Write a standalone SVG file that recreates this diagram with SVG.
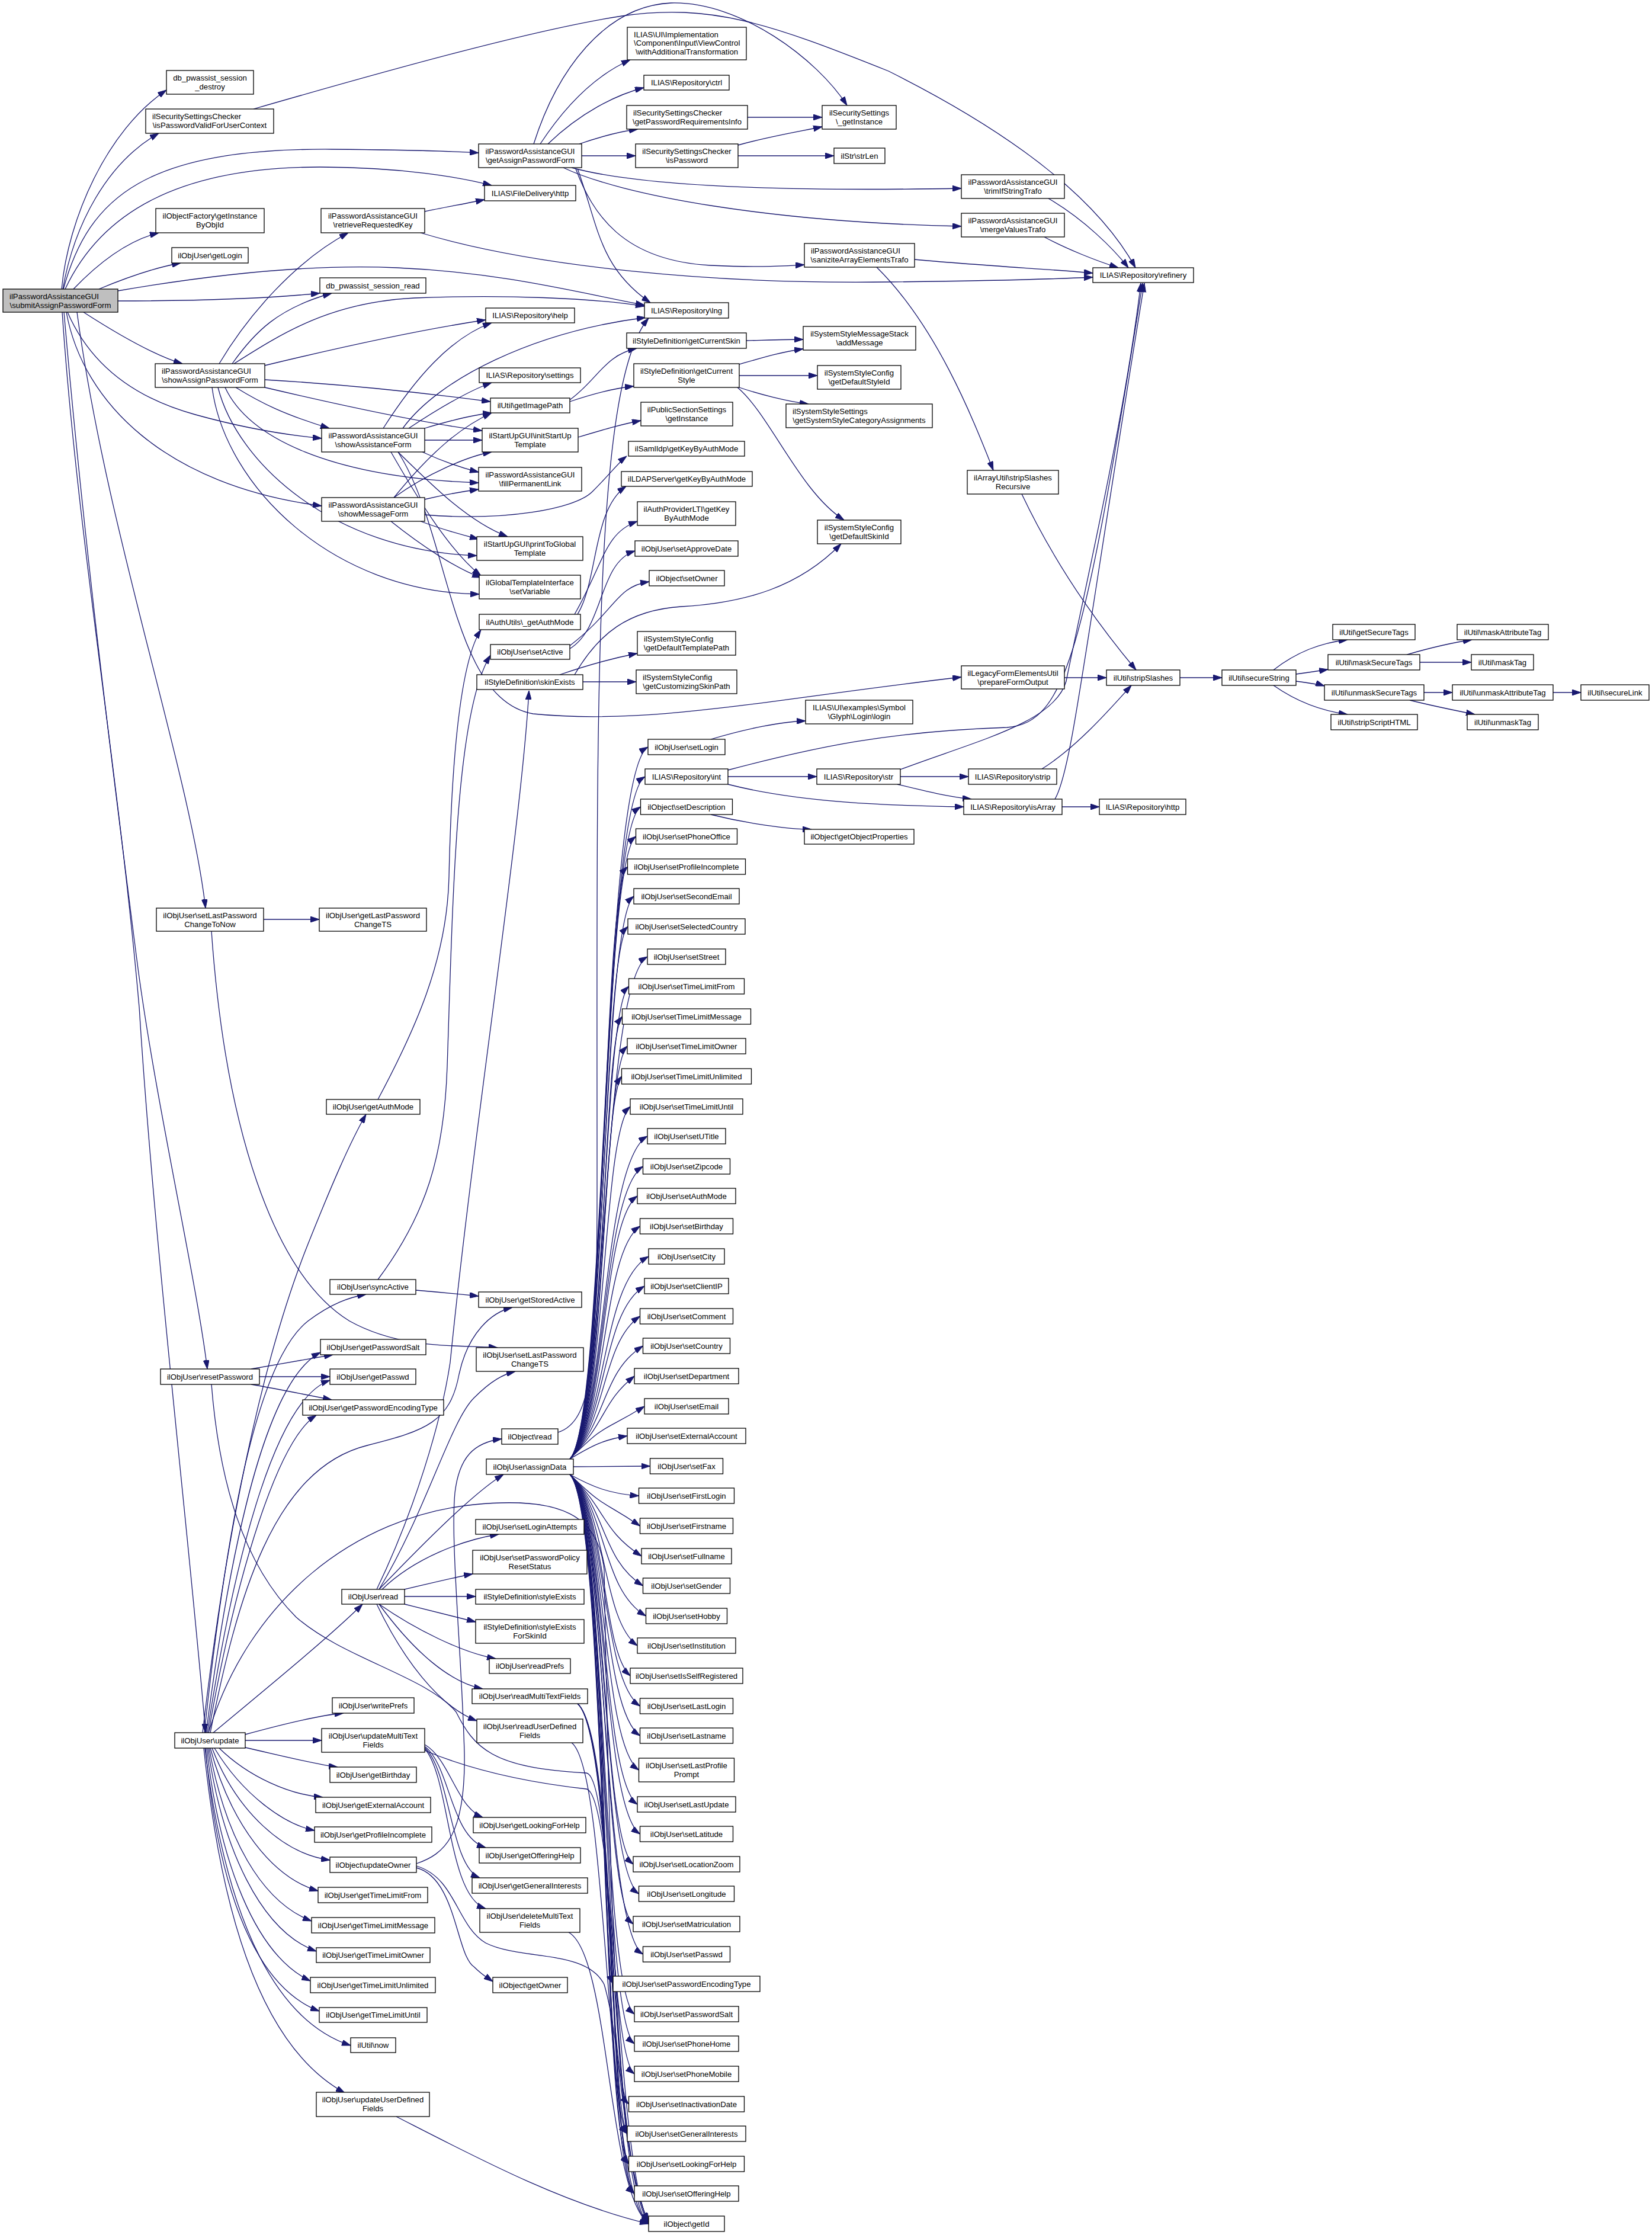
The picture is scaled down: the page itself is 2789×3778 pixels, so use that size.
<svg xmlns="http://www.w3.org/2000/svg" width="2789" height="3778" viewBox="0 0 2789 3778">
<defs>
<style>
rect{fill:#fff;stroke:#000;stroke-width:1.3}
#n_submit rect{fill:#bfbfbf}
text{font-family:"Liberation Sans",Arial,Helvetica,sans-serif;font-size:13.2px;text-anchor:middle;fill:#000}
text.l{text-anchor:start}
#edges path{fill:none;stroke:#191970;stroke-width:1.3;marker-end:url(#a)}
</style>
<marker id="a" markerUnits="userSpaceOnUse" markerWidth="15" markerHeight="10" viewBox="0 0 15 10" refX="15" refY="5" orient="auto"><path d="M0,0 L15,5 L0,10 z" fill="#191970" stroke="#191970" stroke-width="1"/></marker>
</defs>
<rect x="0" y="0" width="2789" height="3778" style="fill:#fff;stroke:none"/>
<g id="edges">
<path d="M104,488 C115,370 180,220 281,152"/>
<path d="M106,488 C125,380 180,275 268,225"/>
<path d="M107,488 C150,330 250,250 560,252 C680,253 760,255 808,258"/>
<path d="M110,488 C170,360 300,282 540,282 C680,282 780,300 830,313"/>
<path d="M124,488 C170,440 220,405 268,393"/>
<path d="M167,488 C210,470 260,452 305,444"/>
<path d="M199,491 C350,465 520,445 670,452 C850,460 980,495 1088,515"/>
<path d="M199,508 C350,508 460,503 540,495"/>
<path d="M141,527 C200,565 260,600 308,614"/>
<path d="M114,527 C150,610 220,670 330,700 C420,725 490,735 543,740"/>
<path d="M112,527 C140,680 280,820 543,854"/>
<path d="M130,527 C180,900 320,1300 347,1533"/>
<path d="M108,527 C140,900 190,1300 230,1612 C260,1850 330,2150 350,2311"/>
<path d="M105,527 C130,900 200,1300 235,1700 C260,2100 320,2600 347,2925"/>
<path d="M428,184 C650,120 900,50 1050,27 C1200,5 1300,40 1500,120 C1700,220 1850,330 1917,452"/>
<path d="M912,243 C960,170 1010,125 1064,101"/>
<path d="M925,243 C980,190 1040,160 1087,148"/>
<path d="M978,243 C1010,232 1045,222 1077,218"/>
<path d="M982,263 L1073,263"/>
<path d="M965,283 C1100,320 1400,322 1623,318"/>
<path d="M951,283 C1050,330 1300,375 1623,382"/>
<path d="M972,285 C1000,360 1050,440 1200,448 C1280,452 1320,449 1358,447"/>
<path d="M975,285 C1010,380 1010,450 1098,511"/>
<path d="M901,243 C940,120 1020,10 1133,5 C1250,2 1380,100 1430,178"/>
<path d="M1246,245 C1300,230 1350,222 1388,214"/>
<path d="M1246,263 L1408,263"/>
<path d="M1262,198 L1388,198"/>
<path d="M1770,335 C1830,370 1880,420 1905,452"/>
<path d="M1763,400 C1800,420 1850,440 1888,452"/>
<path d="M1544,438 C1650,448 1780,455 1845,461"/>
<path d="M1480,451 C1580,550 1640,700 1677,794"/>
<path d="M717,357 C750,350 790,343 818,337"/>
<path d="M710,393 C900,450 1200,480 1500,476 C1700,474 1800,470 1845,468"/>
<path d="M370,614 C420,530 500,440 588,393"/>
<path d="M392,614 C430,560 470,520 560,495"/>
<path d="M395,614 C480,560 560,510 700,503 C850,497 1000,503 1088,517"/>
<path d="M447,617 C600,580 720,555 820,540"/>
<path d="M447,641 C600,650 730,665 828,678"/>
<path d="M447,654 C600,690 720,715 814,727"/>
<path d="M398,654 C440,680 480,700 556,723"/>
<path d="M380,654 C420,740 560,806 808,815"/>
<path d="M368,654 C400,780 560,930 805,938"/>
<path d="M358,654 C380,820 560,1000 809,1003"/>
<path d="M647,723 C700,640 760,570 830,545"/>
<path d="M680,723 C740,640 900,560 1090,536"/>
<path d="M690,723 C740,690 790,660 830,646"/>
<path d="M717,723 C760,710 800,700 830,697"/>
<path d="M717,743 L814,743"/>
<path d="M713,763 C750,780 780,790 808,797"/>
<path d="M672,763 C730,820 790,880 857,906"/>
<path d="M660,763 C710,850 760,930 812,972"/>
<path d="M672,763 C760,900 760,1180 900,1205 C1100,1225 1300,1180 1623,1143"/>
<path d="M665,840 C730,760 780,720 830,697"/>
<path d="M665,840 C720,800 790,770 830,763"/>
<path d="M717,843 C750,835 780,830 808,826"/>
<path d="M710,880 C750,895 780,903 808,910"/>
<path d="M660,880 C710,920 770,960 812,975"/>
<path d="M717,869 C850,880 970,860 1000,830 C1030,800 1045,780 1058,770"/>
<path d="M962,675 C1010,640 1020,600 1075,588"/>
<path d="M962,678 C1000,665 1040,655 1070,652"/>
<path d="M1260,575 C1300,574 1330,573 1356,573"/>
<path d="M1248,615 C1290,603 1320,594 1356,589"/>
<path d="M1248,634 L1380,634"/>
<path d="M1248,654 C1280,665 1330,678 1365,682"/>
<path d="M1245,654 C1300,700 1350,830 1425,878"/>
<path d="M976,738 C1020,725 1050,716 1082,710"/>
<path d="M975,1037 C1010,980 1000,860 1057,821"/>
<path d="M970,1037 C1020,950 1020,900 1076,880"/>
<path d="M962,1095 C1020,1060 1010,950 1072,930"/>
<path d="M962,1090 C1040,1030 1040,990 1096,982"/>
<path d="M945,1139 C1000,1120 1040,1110 1076,1103"/>
<path d="M984,1151 L1074,1151"/>
<path d="M970,1139 C1010,1070 1060,1030 1150,1024 C1260,1018 1350,990 1420,918"/>
<path d="M638,1856 C700,1740 755,1620 758,1480 C762,1300 775,1120 812,1063"/>
<path d="M638,2160 C720,2050 750,1950 755,1800 C765,1500 770,1200 828,1106"/>
<path d="M702,2178 C750,2182 780,2185 808,2188"/>
<path d="M636,2683 C700,2550 745,2400 760,2300 C800,1900 880,1400 893,1166"/>
<path d="M640,2683 C720,2550 760,2400 800,2360 C830,2330 850,2320 870,2315"/>
<path d="M355,2925 C400,2700 460,2480 620,2440 C720,2415 760,2400 775,2320 C790,2250 830,2215 865,2207"/>
<path d="M445,1552 L539,1552"/>
<path d="M357,1572 C380,1900 460,2150 590,2230 C680,2280 780,2270 840,2275"/>
<path d="M424,2311 C470,2303 520,2294 562,2287"/>
<path d="M438,2324 L557,2324"/>
<path d="M424,2337 C470,2345 520,2355 560,2363"/>
<path d="M357,2337 C370,2500 410,2640 500,2730 C580,2800 720,2830 770,2890 C800,2950 830,2985 990,2993 C1040,3000 1030,3650 1095,3754"/>
<path d="M345,2925 C380,2600 430,2300 520,2230 C560,2200 590,2190 618,2185"/>
<path d="M342,2925 C380,2600 440,2300 520,2100 C560,2000 590,1930 618,1881"/>
<path d="M348,2925 C390,2600 450,2330 541,2283"/>
<path d="M350,2925 C400,2600 470,2360 557,2330"/>
<path d="M352,2925 C400,2650 470,2430 534,2389"/>
<path d="M360,2925 C450,2850 560,2760 612,2708"/>
<path d="M414,2928 C480,2910 540,2895 580,2892"/>
<path d="M414,2938 L543,2938"/>
<path d="M414,2950 C480,2965 540,2980 570,2983"/>
<path d="M370,2951 C420,3000 490,3030 545,3034"/>
<path d="M362,2951 C410,3030 480,3080 531,3090"/>
<path d="M358,2951 C400,3060 480,3130 557,3140"/>
<path d="M355,2951 C390,3080 460,3170 537,3192"/>
<path d="M353,2951 C380,3100 440,3210 526,3243"/>
<path d="M351,2951 C375,3120 440,3260 534,3294"/>
<path d="M349,2951 C370,3140 430,3300 524,3344"/>
<path d="M347,2951 C365,3160 420,3350 539,3395"/>
<path d="M346,2951 C370,3150 430,3400 592,3453"/>
<path d="M344,2951 C370,3200 430,3450 582,3533"/>
<path d="M352,2925 C420,2700 600,2560 800,2540 C950,2525 1010,2560 1020,2650 C1030,3200 1040,3650 1095,3750"/>
<path d="M640,2683 C720,2600 800,2520 850,2489"/>
<path d="M645,2683 C700,2630 780,2600 842,2590"/>
<path d="M683,2683 C730,2672 780,2660 798,2657"/>
<path d="M683,2695 L803,2695"/>
<path d="M683,2708 C730,2720 780,2732 803,2738"/>
<path d="M640,2708 C700,2750 780,2790 837,2800"/>
<path d="M640,2708 C700,2790 760,2840 815,2851"/>
<path d="M636,2708 C680,2800 740,2880 805,2905"/>
<path d="M703,3146 C750,3130 786,3100 784,2960 C780,2800 760,2600 768,2520 C775,2460 800,2435 847,2429"/>
<path d="M703,3153 C770,3170 770,3300 800,3320 C815,3335 825,3340 832,3345"/>
<path d="M703,3150 C770,3170 770,3250 820,3280 C880,3310 990,3290 1020,3350 C1050,3450 1050,3650 1095,3752"/>
<path d="M717,2945 C760,2970 770,3050 815,3068"/>
<path d="M717,2948 C760,2980 760,3100 820,3119"/>
<path d="M717,2950 C760,2990 760,3150 810,3170"/>
<path d="M717,2952 C760,3000 755,3200 820,3222"/>
<path d="M717,2955 C800,2990 900,3010 990,3020 C1040,3030 1040,3650 1095,3752"/>
<path d="M975,2876 C1040,2930 1028,3552 1059,3602"/>
<path d="M975,2876 C1040,2930 1028,3603 1061.5,3653"/>
<path d="M975,2876 C1040,2930 1028,3653 1071,3703"/>
<path d="M975,2876 C1040,2930 1030,3704 1095,3754"/>
<path d="M965,2942 C1030,2990 1020,3700 1095,3754"/>
<path d="M960,3262 C1030,3300 1025,3700 1095,3754"/>
<path d="M669,3573 C800,3640 950,3720 1095,3754"/>
<path d="M942,2418 C1000,2400 1008,2300 1008,2000 C1008,1200 1000,650 1095,537"/>
<path d="M1200,1375 C1260,1390 1330,1400 1370,1400"/>
<path d="M1200,1248 C1260,1230 1320,1218 1360,1217"/>
<path d="M1229,1311 L1379,1311"/>
<path d="M1229,1324 C1350,1355 1500,1360 1627,1362"/>
<path d="M1229,1300 C1380,1260 1500,1235 1700,1228 C1800,1220 1830,1100 1929,478"/>
<path d="M1520,1299 C1650,1250 1780,1220 1800,1150 C1830,1000 1900,700 1926,478"/>
<path d="M1520,1311 L1635,1311"/>
<path d="M1515,1324 C1560,1335 1600,1345 1640,1349"/>
<path d="M1781,1349 C1810,1300 1830,1100 1932,478"/>
<path d="M1793,1362 L1856,1362"/>
<path d="M1759,1298 C1820,1260 1880,1190 1910,1157"/>
<path d="M1725,834 C1780,950 1850,1050 1918,1131"/>
<path d="M1797,1144 L1868,1144"/>
<path d="M1992,1144 L2063,1144"/>
<path d="M2150,1131 C2190,1100 2230,1085 2275,1080"/>
<path d="M2188,1138 C2210,1135 2230,1132 2242,1130"/>
<path d="M2188,1150 C2210,1153 2230,1156 2236,1158"/>
<path d="M2150,1157 C2190,1185 2230,1200 2275,1206"/>
<path d="M2375,1105 C2410,1095 2450,1085 2485,1080"/>
<path d="M2397,1118 L2484,1118"/>
<path d="M2404,1169 L2452,1169"/>
<path d="M2380,1182 C2420,1192 2460,1200 2490,1206"/>
<path d="M2622,1169 L2669,1169"/>
<path d="M962,2463 C1025,2400 1015,1306 1094,1261"/>
<path d="M962,2463 C1025,2400 1015,1356 1089,1311"/>
<path d="M962,2463 C1025,2400 1015,1407 1081.5,1362"/>
<path d="M962,2463 C1025,2400 1015,1457 1073.5,1412"/>
<path d="M962,2463 C1025,2400 1015,1508 1059.5,1463"/>
<path d="M962,2463 C1025,2400 1015,1558 1070,1513"/>
<path d="M962,2463 C1025,2400 1015,1609 1060,1564"/>
<path d="M962,2463 C1025,2400 1015,1660 1093,1615"/>
<path d="M962,2463 C1025,2400 1015,1710 1061.5,1665"/>
<path d="M962,2463 C1025,2400 1015,1761 1050.5,1716"/>
<path d="M962,2463 C1025,2400 1015,1811 1059,1766"/>
<path d="M962,2463 C1025,2400 1015,1862 1049.5,1817"/>
<path d="M962,2463 C1025,2400 1015,1913 1064,1868"/>
<path d="M962,2463 C1025,2400 1015,1963 1093,1918"/>
<path d="M962,2463 C1025,2400 1015,2014 1085.5,1969"/>
<path d="M962,2463 C1025,2400 1015,2064 1076,2019"/>
<path d="M962,2463 C1025,2400 1015,2115 1080.5,2070"/>
<path d="M962,2463 C1025,2400 1015,2166 1095,2121"/>
<path d="M962,2463 C1025,2400 1015,2216 1088,2171"/>
<path d="M962,2463 C1025,2400 1015,2267 1080.5,2222"/>
<path d="M962,2463 C1025,2400 1015,2317 1085.5,2272"/>
<path d="M962,2463 C1025,2400 1015,2368 1071,2323"/>
<path d="M962,2463 C1025,2400 1015,2419 1088,2374"/>
<path d="M962,2463 C1000,2440 1020,2430 1059,2424"/>
<path d="M968,2476 C1010,2476 1050,2475 1097.5,2475"/>
<path d="M962,2489 C1000,2510 1030,2522 1078.5,2525"/>
<path d="M962,2489 C1025,2550 1015,2531 1080.5,2576"/>
<path d="M962,2489 C1025,2550 1015,2582 1083,2627"/>
<path d="M962,2489 C1025,2550 1015,2632 1085.5,2677"/>
<path d="M962,2489 C1025,2550 1015,2683 1090.5,2728"/>
<path d="M962,2489 C1025,2550 1015,2733 1076,2778"/>
<path d="M962,2489 C1025,2550 1015,2784 1064,2829"/>
<path d="M962,2489 C1025,2550 1015,2835 1080.5,2880"/>
<path d="M962,2489 C1025,2550 1015,2885 1080.5,2930"/>
<path d="M962,2489 C1025,2550 1015,2943 1078.5,2988"/>
<path d="M962,2489 C1025,2550 1015,3001 1076,3046"/>
<path d="M962,2489 C1025,2550 1015,3051 1080.5,3096"/>
<path d="M962,2489 C1025,2550 1015,3102 1069,3147"/>
<path d="M962,2489 C1025,2550 1015,3152 1078.5,3197"/>
<path d="M962,2489 C1025,2550 1015,3203 1069,3248"/>
<path d="M962,2489 C1025,2550 1015,3254 1085.5,3299"/>
<path d="M962,2489 C1025,2550 1015,3304 1035,3349"/>
<path d="M962,2489 C1025,2550 1015,3355 1071,3400"/>
<path d="M962,2489 C1025,2550 1015,3405 1071,3450"/>
<path d="M962,2489 C1025,2550 1015,3456 1071,3501"/>
<path d="M962,2489 C1025,2550 1015,3507 1061.5,3552"/>
<path d="M962,2489 C1025,2550 1015,3557 1059,3602"/>
<path d="M962,2489 C1025,2550 1015,3608 1061.5,3653"/>
<path d="M962,2489 C1025,2550 1015,3658 1071,3703"/>
</g>
<g id="n_submit"><rect x="5" y="488" width="194" height="39"/><text class="l" x="16" y="504.5">ilPasswordAssistanceGUI</text><text x="102" y="519.5">\submitAssignPasswordForm</text></g>
<g id="n_destroy"><rect x="281" y="119" width="147" height="40"/><text x="354.5" y="135.5">db_pwassist_session</text><text x="354.5" y="150.5">_destroy</text></g>
<g id="n_isPwValid"><rect x="246" y="184" width="216" height="41"/><text class="l" x="257" y="200.5">ilSecuritySettingsChecker</text><text x="354" y="215.5">\isPasswordValidForUserContext</text></g>
<g id="n_getInst"><rect x="263" y="352" width="183" height="41"/><text x="354.5" y="368.5">ilObjectFactory\getInstance</text><text x="354.5" y="383.5">ByObjId</text></g>
<g id="n_getLogin"><rect x="290" y="418" width="129" height="26"/><text x="354.5" y="435.5">ilObjUser\getLogin</text></g>
<g id="n_showAssign"><rect x="262" y="614" width="185" height="40"/><text class="l" x="273" y="630.5">ilPasswordAssistanceGUI</text><text x="354.5" y="645.5">\showAssignPasswordForm</text></g>
<g id="n_setLPCTN"><rect x="264" y="1533" width="181" height="39"/><text x="354.5" y="1549.5">ilObjUser\setLastPassword</text><text x="354.5" y="1564.5">ChangeToNow</text></g>
<g id="n_resetPw"><rect x="271" y="2311" width="167" height="26"/><text x="354.5" y="2328.5">ilObjUser\resetPassword</text></g>
<g id="n_update"><rect x="295" y="2925" width="119" height="26"/><text x="354.5" y="2942.5">ilObjUser\update</text></g>
<g id="n_retrieve"><rect x="542" y="352" width="175" height="41"/><text x="629.5" y="368.5">ilPasswordAssistanceGUI</text><text x="629.5" y="383.5">\retrieveRequestedKey</text></g>
<g id="n_sessRead"><rect x="540" y="469" width="179" height="26"/><text x="629.5" y="486.5">db_pwassist_session_read</text></g>
<g id="n_showAssist"><rect x="543" y="723" width="174" height="40"/><text x="630" y="739.5">ilPasswordAssistanceGUI</text><text x="630" y="754.5">\showAssistanceForm</text></g>
<g id="n_showMsg"><rect x="543" y="840" width="174" height="40"/><text x="630" y="856.5">ilPasswordAssistanceGUI</text><text x="630" y="871.5">\showMessageForm</text></g>
<g id="n_getLPCTS"><rect x="539" y="1533" width="181" height="39"/><text x="629.5" y="1549.5">ilObjUser\getLastPassword</text><text x="629.5" y="1564.5">ChangeTS</text></g>
<g id="n_getAuthMode"><rect x="551" y="1856" width="158" height="25"/><text x="630" y="1873">ilObjUser\getAuthMode</text></g>
<g id="n_syncActive"><rect x="557" y="2160" width="145" height="25"/><text x="629.5" y="2177">ilObjUser\syncActive</text></g>
<g id="n_getPwSalt"><rect x="541" y="2261" width="178" height="26"/><text x="630" y="2278.5">ilObjUser\getPasswordSalt</text></g>
<g id="n_getPasswd"><rect x="557" y="2311" width="145" height="26"/><text x="629.5" y="2328.5">ilObjUser\getPasswd</text></g>
<g id="n_getPwEnc"><rect x="511" y="2363" width="238" height="26"/><text x="630" y="2380.5">ilObjUser\getPasswordEncodingType</text></g>
<g id="n_userRead"><rect x="577" y="2683" width="106" height="25"/><text x="630" y="2700">ilObjUser\read</text></g>
<g id="n_writePrefs"><rect x="561" y="2866" width="138" height="26"/><text x="630" y="2883.5">ilObjUser\writePrefs</text></g>
<g id="n_updMulti"><rect x="543" y="2918" width="174" height="40"/><text x="630" y="2934.5">ilObjUser\updateMultiText</text><text x="630" y="2949.5">Fields</text></g>
<g id="n_getBirthday"><rect x="557" y="2983" width="146" height="26"/><text x="630" y="3000.5">ilObjUser\getBirthday</text></g>
<g id="n_getExtAcc"><rect x="533" y="3034" width="194" height="26"/><text x="630" y="3051.5">ilObjUser\getExternalAccount</text></g>
<g id="n_getProfInc"><rect x="531" y="3084" width="198" height="26"/><text x="630" y="3101.5">ilObjUser\getProfileIncomplete</text></g>
<g id="n_updOwner"><rect x="557" y="3135" width="146" height="26"/><text x="630" y="3152.5">ilObject\updateOwner</text></g>
<g id="n_getTLFrom"><rect x="537" y="3186" width="185" height="26"/><text x="629.5" y="3203.5">ilObjUser\getTimeLimitFrom</text></g>
<g id="n_getTLMsg"><rect x="526" y="3237" width="208" height="26"/><text x="630" y="3254.5">ilObjUser\getTimeLimitMessage</text></g>
<g id="n_getTLOwner"><rect x="534" y="3288" width="192" height="25"/><text x="630" y="3305">ilObjUser\getTimeLimitOwner</text></g>
<g id="n_getTLUnl"><rect x="524" y="3338" width="211" height="26"/><text x="629.5" y="3355.5">ilObjUser\getTimeLimitUnlimited</text></g>
<g id="n_getTLUntil"><rect x="539" y="3389" width="182" height="25"/><text x="630" y="3406">ilObjUser\getTimeLimitUntil</text></g>
<g id="n_now"><rect x="592" y="3440" width="76" height="25"/><text x="630" y="3457">ilUtil\now</text></g>
<g id="n_updUDF"><rect x="534" y="3532" width="191" height="41"/><text x="629.5" y="3548.5">ilObjUser\updateUserDefined</text><text x="629.5" y="3563.5">Fields</text></g>
<g id="n_getAssign"><rect x="808" y="243" width="174" height="40"/><text x="895" y="259.5">ilPasswordAssistanceGUI</text><text x="895" y="274.5">\getAssignPasswordForm</text></g>
<g id="n_fdHttp"><rect x="818" y="313" width="154" height="26"/><text x="895" y="330.5">ILIAS\FileDelivery\http</text></g>
<g id="n_help"><rect x="820" y="520" width="150" height="25"/><text x="895" y="537">ILIAS\Repository\help</text></g>
<g id="n_settings"><rect x="809" y="621" width="171" height="25"/><text x="894.5" y="638">ILIAS\Repository\settings</text></g>
<g id="n_getImagePath"><rect x="828" y="672" width="134" height="25"/><text x="895" y="689">ilUtil\getImagePath</text></g>
<g id="n_initStartUp"><rect x="814" y="723" width="162" height="40"/><text x="895" y="739.5">ilStartUpGUI\initStartUp</text><text x="895" y="754.5">Template</text></g>
<g id="n_fillPerm"><rect x="808" y="789" width="174" height="40"/><text x="895" y="805.5">ilPasswordAssistanceGUI</text><text x="895" y="820.5">\fillPermanentLink</text></g>
<g id="n_printGlobal"><rect x="805" y="906" width="179" height="40"/><text x="894.5" y="922.5">ilStartUpGUI\printToGlobal</text><text x="894.5" y="937.5">Template</text></g>
<g id="n_setVariable"><rect x="809" y="971" width="171" height="40"/><text x="894.5" y="987.5">ilGlobalTemplateInterface</text><text x="894.5" y="1002.5">\setVariable</text></g>
<g id="n_authUtils"><rect x="809" y="1037" width="171" height="26"/><text x="894.5" y="1054.5">ilAuthUtils\_getAuthMode</text></g>
<g id="n_setActive"><rect x="828" y="1088" width="134" height="25"/><text x="895" y="1105">ilObjUser\setActive</text></g>
<g id="n_skinExists"><rect x="805" y="1139" width="179" height="25"/><text x="894.5" y="1156">ilStyleDefinition\skinExists</text></g>
<g id="n_getStoredActive"><rect x="808" y="2181" width="174" height="26"/><text x="895" y="2198.5">ilObjUser\getStoredActive</text></g>
<g id="n_setLPCTS"><rect x="804" y="2275" width="181" height="40"/><text x="894.5" y="2291.5">ilObjUser\setLastPassword</text><text x="894.5" y="2306.5">ChangeTS</text></g>
<g id="n_objRead"><rect x="847" y="2412" width="95" height="26"/><text x="894.5" y="2429.5">ilObject\read</text></g>
<g id="n_assignData"><rect x="821" y="2463" width="147" height="26"/><text x="894.5" y="2480.5">ilObjUser\assignData</text></g>
<g id="n_setLoginAtt"><rect x="803" y="2565" width="183" height="25"/><text x="894.5" y="2582">ilObjUser\setLoginAttempts</text></g>
<g id="n_setPPRS"><rect x="798" y="2617" width="193" height="40"/><text x="894.5" y="2633.5">ilObjUser\setPasswordPolicy</text><text x="894.5" y="2648.5">ResetStatus</text></g>
<g id="n_styleExists"><rect x="803" y="2683" width="183" height="25"/><text x="894.5" y="2700">ilStyleDefinition\styleExists</text></g>
<g id="n_styleExistsSkin"><rect x="803" y="2734" width="183" height="40"/><text x="894.5" y="2750.5">ilStyleDefinition\styleExists</text><text x="894.5" y="2765.5">ForSkinId</text></g>
<g id="n_readPrefs"><rect x="826" y="2800" width="137" height="25"/><text x="894.5" y="2817">ilObjUser\readPrefs</text></g>
<g id="n_readMulti"><rect x="797" y="2851" width="195" height="25"/><text x="894.5" y="2868">ilObjUser\readMultiTextFields</text></g>
<g id="n_readUDF"><rect x="805" y="2902" width="179" height="40"/><text x="894.5" y="2918.5">ilObjUser\readUserDefined</text><text x="894.5" y="2933.5">Fields</text></g>
<g id="n_getLFH"><rect x="799" y="3068" width="190" height="26"/><text x="894" y="3085.5">ilObjUser\getLookingForHelp</text></g>
<g id="n_getOH"><rect x="809" y="3119" width="171" height="26"/><text x="894.5" y="3136.5">ilObjUser\getOfferingHelp</text></g>
<g id="n_getGI"><rect x="797" y="3170" width="195" height="26"/><text x="894.5" y="3187.5">ilObjUser\getGeneralInterests</text></g>
<g id="n_delMulti"><rect x="810" y="3222" width="169" height="40"/><text x="894.5" y="3238.5">ilObjUser\deleteMultiText</text><text x="894.5" y="3253.5">Fields</text></g>
<g id="n_getOwner"><rect x="832" y="3338" width="126" height="26"/><text x="895" y="3355.5">ilObject\getOwner</text></g>
<g id="n_withAT"><rect x="1059" y="46" width="201" height="55"/><text class="l" x="1070" y="62.5">ILIAS\UI\Implementation</text><text class="l" x="1070" y="77">\Component\Input\ViewControl</text><text x="1159.5" y="91.5">\withAdditionalTransformation</text></g>
<g id="n_ctrl"><rect x="1087" y="127" width="144" height="25"/><text x="1159" y="144">ILIAS\Repository\ctrl</text></g>
<g id="n_getPRI"><rect x="1058" y="178" width="204" height="40"/><text class="l" x="1069" y="194.5">ilSecuritySettingsChecker</text><text x="1160" y="209.5">\getPasswordRequirementsInfo</text></g>
<g id="n_isPassword"><rect x="1073" y="243" width="173" height="40"/><text x="1159.5" y="259.5">ilSecuritySettingsChecker</text><text x="1159.5" y="274.5">\isPassword</text></g>
<g id="n_lng"><rect x="1088" y="511" width="142" height="26"/><text x="1159" y="528.5">ILIAS\Repository\lng</text></g>
<g id="n_getCurSkin"><rect x="1058" y="562" width="202" height="26"/><text x="1159" y="579.5">ilStyleDefinition\getCurrentSkin</text></g>
<g id="n_getCurStyle"><rect x="1070" y="614" width="178" height="40"/><text x="1159" y="630.5">ilStyleDefinition\getCurrent</text><text x="1159" y="645.5">Style</text></g>
<g id="n_pubSec"><rect x="1082" y="679" width="155" height="40"/><text x="1159.5" y="695.5">ilPublicSectionSettings</text><text x="1159.5" y="710.5">\getInstance</text></g>
<g id="n_saml"><rect x="1061" y="745" width="196" height="25"/><text x="1159" y="762">ilSamlIdp\getKeyByAuthMode</text></g>
<g id="n_ldap"><rect x="1049" y="796" width="221" height="25"/><text x="1159.5" y="813">ilLDAPServer\getKeyByAuthMode</text></g>
<g id="n_lti"><rect x="1076" y="847" width="166" height="40"/><text x="1159" y="863.5">ilAuthProviderLTI\getKey</text><text x="1159" y="878.5">ByAuthMode</text></g>
<g id="n_setApprove"><rect x="1072" y="913" width="174" height="26"/><text x="1159" y="930.5">ilObjUser\setApproveDate</text></g>
<g id="n_setOwner"><rect x="1096" y="963" width="127" height="26"/><text x="1159.5" y="980.5">ilObject\setOwner</text></g>
<g id="n_getDefTpl"><rect x="1076" y="1066" width="166" height="40"/><text class="l" x="1087" y="1082.5">ilSystemStyleConfig</text><text x="1159" y="1097.5">\getDefaultTemplatePath</text></g>
<g id="n_getCustSkin"><rect x="1074" y="1131" width="170" height="40"/><text class="l" x="1085" y="1147.5">ilSystemStyleConfig</text><text x="1159" y="1162.5">\getCustomizingSkinPath</text></g>
<g id="n_s00"><rect x="1094" y="1248" width="130" height="26"/><text x="1159" y="1265.5">ilObjUser\setLogin</text></g>
<g id="n_s01"><rect x="1089" y="1298" width="140" height="26"/><text x="1159" y="1315.5">ILIAS\Repository\int</text></g>
<g id="n_s02"><rect x="1081.5" y="1349" width="155" height="26"/><text x="1159" y="1366.5">ilObject\setDescription</text></g>
<g id="n_s03"><rect x="1073.5" y="1399" width="171" height="26"/><text x="1159" y="1416.5">ilObjUser\setPhoneOffice</text></g>
<g id="n_s04"><rect x="1059.5" y="1450" width="199" height="26"/><text x="1159" y="1467.5">ilObjUser\setProfileIncomplete</text></g>
<g id="n_s05"><rect x="1070" y="1500" width="178" height="26"/><text x="1159" y="1517.5">ilObjUser\setSecondEmail</text></g>
<g id="n_s06"><rect x="1060" y="1551" width="198" height="26"/><text x="1159" y="1568.5">ilObjUser\setSelectedCountry</text></g>
<g id="n_s07"><rect x="1093" y="1602" width="132" height="26"/><text x="1159" y="1619.5">ilObjUser\setStreet</text></g>
<g id="n_s08"><rect x="1061.5" y="1652" width="195" height="26"/><text x="1159" y="1669.5">ilObjUser\setTimeLimitFrom</text></g>
<g id="n_s09"><rect x="1050.5" y="1703" width="217" height="26"/><text x="1159" y="1720.5">ilObjUser\setTimeLimitMessage</text></g>
<g id="n_s10"><rect x="1059" y="1753" width="200" height="26"/><text x="1159" y="1770.5">ilObjUser\setTimeLimitOwner</text></g>
<g id="n_s11"><rect x="1049.5" y="1804" width="219" height="26"/><text x="1159" y="1821.5">ilObjUser\setTimeLimitUnlimited</text></g>
<g id="n_s12"><rect x="1064" y="1855" width="190" height="26"/><text x="1159" y="1872.5">ilObjUser\setTimeLimitUntil</text></g>
<g id="n_s13"><rect x="1093" y="1905" width="132" height="26"/><text x="1159" y="1922.5">ilObjUser\setUTitle</text></g>
<g id="n_s14"><rect x="1085.5" y="1956" width="147" height="26"/><text x="1159" y="1973.5">ilObjUser\setZipcode</text></g>
<g id="n_s15"><rect x="1076" y="2006" width="166" height="26"/><text x="1159" y="2023.5">ilObjUser\setAuthMode</text></g>
<g id="n_s16"><rect x="1080.5" y="2057" width="157" height="26"/><text x="1159" y="2074.5">ilObjUser\setBirthday</text></g>
<g id="n_s17"><rect x="1095" y="2108" width="128" height="26"/><text x="1159" y="2125.5">ilObjUser\setCity</text></g>
<g id="n_s18"><rect x="1088" y="2158" width="142" height="26"/><text x="1159" y="2175.5">ilObjUser\setClientIP</text></g>
<g id="n_s19"><rect x="1080.5" y="2209" width="157" height="26"/><text x="1159" y="2226.5">ilObjUser\setComment</text></g>
<g id="n_s20"><rect x="1085.5" y="2259" width="147" height="26"/><text x="1159" y="2276.5">ilObjUser\setCountry</text></g>
<g id="n_s21"><rect x="1071" y="2310" width="176" height="26"/><text x="1159" y="2327.5">ilObjUser\setDepartment</text></g>
<g id="n_s22"><rect x="1088" y="2361" width="142" height="26"/><text x="1159" y="2378.5">ilObjUser\setEmail</text></g>
<g id="n_s23"><rect x="1059" y="2411" width="200" height="26"/><text x="1159" y="2428.5">ilObjUser\setExternalAccount</text></g>
<g id="n_s24"><rect x="1097.5" y="2462" width="123" height="26"/><text x="1159" y="2479.5">ilObjUser\setFax</text></g>
<g id="n_s25"><rect x="1078.5" y="2512" width="161" height="26"/><text x="1159" y="2529.5">ilObjUser\setFirstLogin</text></g>
<g id="n_s26"><rect x="1080.5" y="2563" width="157" height="26"/><text x="1159" y="2580.5">ilObjUser\setFirstname</text></g>
<g id="n_s27"><rect x="1083" y="2614" width="152" height="26"/><text x="1159" y="2631.5">ilObjUser\setFullname</text></g>
<g id="n_s28"><rect x="1085.5" y="2664" width="147" height="26"/><text x="1159" y="2681.5">ilObjUser\setGender</text></g>
<g id="n_s29"><rect x="1090.5" y="2715" width="137" height="26"/><text x="1159" y="2732.5">ilObjUser\setHobby</text></g>
<g id="n_s30"><rect x="1076" y="2765" width="166" height="26"/><text x="1159" y="2782.5">ilObjUser\setInstitution</text></g>
<g id="n_s31"><rect x="1064" y="2816" width="190" height="26"/><text x="1159" y="2833.5">ilObjUser\setIsSelfRegistered</text></g>
<g id="n_s32"><rect x="1080.5" y="2867" width="157" height="26"/><text x="1159" y="2884.5">ilObjUser\setLastLogin</text></g>
<g id="n_s33"><rect x="1080.5" y="2917" width="157" height="26"/><text x="1159" y="2934.5">ilObjUser\setLastname</text></g>
<g id="n_sP"><rect x="1078.5" y="2968" width="161" height="40"/><text x="1159" y="2984.5">ilObjUser\setLastProfile</text><text x="1159" y="2999.5">Prompt</text></g>
<g id="n_k00"><rect x="1076" y="3033" width="166" height="26"/><text x="1159" y="3050.5">ilObjUser\setLastUpdate</text></g>
<g id="n_k01"><rect x="1080.5" y="3083" width="157" height="26"/><text x="1159" y="3100.5">ilObjUser\setLatitude</text></g>
<g id="n_k02"><rect x="1069" y="3134" width="180" height="26"/><text x="1159" y="3151.5">ilObjUser\setLocationZoom</text></g>
<g id="n_k03"><rect x="1078.5" y="3184" width="161" height="26"/><text x="1159" y="3201.5">ilObjUser\setLongitude</text></g>
<g id="n_k04"><rect x="1069" y="3235" width="180" height="26"/><text x="1159" y="3252.5">ilObjUser\setMatriculation</text></g>
<g id="n_k05"><rect x="1085.5" y="3286" width="147" height="26"/><text x="1159" y="3303.5">ilObjUser\setPasswd</text></g>
<g id="n_k06"><rect x="1035" y="3336" width="248" height="26"/><text x="1159" y="3353.5">ilObjUser\setPasswordEncodingType</text></g>
<g id="n_k07"><rect x="1071" y="3387" width="176" height="26"/><text x="1159" y="3404.5">ilObjUser\setPasswordSalt</text></g>
<g id="n_k08"><rect x="1071" y="3437" width="176" height="26"/><text x="1159" y="3454.5">ilObjUser\setPhoneHome</text></g>
<g id="n_k09"><rect x="1071" y="3488" width="176" height="26"/><text x="1159" y="3505.5">ilObjUser\setPhoneMobile</text></g>
<g id="n_k10"><rect x="1061.5" y="3539" width="195" height="26"/><text x="1159" y="3556.5">ilObjUser\setInactivationDate</text></g>
<g id="n_k11"><rect x="1059" y="3589" width="200" height="26"/><text x="1159" y="3606.5">ilObjUser\setGeneralInterests</text></g>
<g id="n_k12"><rect x="1061.5" y="3640" width="195" height="26"/><text x="1159" y="3657.5">ilObjUser\setLookingForHelp</text></g>
<g id="n_k13"><rect x="1071" y="3690" width="176" height="26"/><text x="1159" y="3707.5">ilObjUser\setOfferingHelp</text></g>
<g id="n_getId"><rect x="1095" y="3741" width="128" height="26"/><text x="1159" y="3758.5">ilObject\getId</text></g>
<g id="n_getInstance"><rect x="1388" y="178" width="125" height="40"/><text x="1450.5" y="194.5">ilSecuritySettings</text><text x="1450.5" y="209.5">\_getInstance</text></g>
<g id="n_strLen"><rect x="1408" y="250" width="86" height="26"/><text x="1451" y="267.5">ilStr\strLen</text></g>
<g id="n_sanitize"><rect x="1358" y="411" width="186" height="40"/><text class="l" x="1369" y="427.5">ilPasswordAssistanceGUI</text><text x="1451" y="442.5">\saniziteArrayElementsTrafo</text></g>
<g id="n_addMsg"><rect x="1356" y="551" width="190" height="40"/><text x="1451" y="567.5">ilSystemStyleMessageStack</text><text x="1451" y="582.5">\addMessage</text></g>
<g id="n_getDefStyle"><rect x="1380" y="617" width="141" height="40"/><text x="1450.5" y="633.5">ilSystemStyleConfig</text><text x="1450.5" y="648.5">\getDefaultStyleId</text></g>
<g id="n_getSSCA"><rect x="1327" y="682" width="247" height="40"/><text class="l" x="1338" y="698.5">ilSystemStyleSettings</text><text x="1450.5" y="713.5">\getSystemStyleCategoryAssignments</text></g>
<g id="n_getDefSkin"><rect x="1380" y="878" width="141" height="40"/><text x="1450.5" y="894.5">ilSystemStyleConfig</text><text x="1450.5" y="909.5">\getDefaultSkinId</text></g>
<g id="n_glyph"><rect x="1360" y="1182" width="181" height="40"/><text x="1450.5" y="1198.5">ILIAS\UI\examples\Symbol</text><text x="1450.5" y="1213.5">\Glyph\Login\login</text></g>
<g id="n_str"><rect x="1379" y="1298" width="141" height="26"/><text x="1449.5" y="1315.5">ILIAS\Repository\str</text></g>
<g id="n_getObjProp"><rect x="1358" y="1400" width="185" height="25"/><text x="1450.5" y="1417">ilObject\getObjectProperties</text></g>
<g id="n_trim"><rect x="1623" y="295" width="174" height="40"/><text x="1710" y="311.5">ilPasswordAssistanceGUI</text><text x="1710" y="326.5">\trimIfStringTrafo</text></g>
<g id="n_merge"><rect x="1623" y="360" width="174" height="40"/><text x="1710" y="376.5">ilPasswordAssistanceGUI</text><text x="1710" y="391.5">\mergeValuesTrafo</text></g>
<g id="n_stripRec"><rect x="1633" y="794" width="154" height="40"/><text x="1710" y="810.5">ilArrayUtil\stripSlashes</text><text x="1710" y="825.5">Recursive</text></g>
<g id="n_prepForm"><rect x="1623" y="1124" width="174" height="39"/><text x="1710" y="1140.5">ilLegacyFormElementsUtil</text><text x="1710" y="1155.5">\prepareFormOutput</text></g>
<g id="n_strip"><rect x="1635" y="1298" width="149" height="26"/><text x="1709.5" y="1315.5">ILIAS\Repository\strip</text></g>
<g id="n_isArray"><rect x="1627" y="1349" width="166" height="26"/><text x="1710" y="1366.5">ILIAS\Repository\isArray</text></g>
<g id="n_refinery"><rect x="1845" y="452" width="170" height="25"/><text x="1930" y="469">ILIAS\Repository\refinery</text></g>
<g id="n_stripSlashes"><rect x="1868" y="1131" width="124" height="26"/><text x="1930" y="1148.5">ilUtil\stripSlashes</text></g>
<g id="n_repoHttp"><rect x="1856" y="1349" width="146" height="26"/><text x="1929" y="1366.5">ILIAS\Repository\http</text></g>
<g id="n_secureString"><rect x="2063" y="1131" width="125" height="26"/><text x="2125.5" y="1148.5">ilUtil\secureString</text></g>
<g id="n_getSecTags"><rect x="2250" y="1054" width="139" height="26"/><text x="2319.5" y="1071.5">ilUtil\getSecureTags</text></g>
<g id="n_maskSecTags"><rect x="2242" y="1105" width="155" height="26"/><text x="2319.5" y="1122.5">ilUtil\maskSecureTags</text></g>
<g id="n_unmaskSecTags"><rect x="2236" y="1156" width="168" height="26"/><text x="2320" y="1173.5">ilUtil\unmaskSecureTags</text></g>
<g id="n_stripScript"><rect x="2247" y="1206" width="146" height="26"/><text x="2320" y="1223.5">ilUtil\stripScriptHTML</text></g>
<g id="n_maskAttr"><rect x="2460" y="1054" width="154" height="26"/><text x="2537" y="1071.5">ilUtil\maskAttributeTag</text></g>
<g id="n_maskTag"><rect x="2484" y="1105" width="105" height="26"/><text x="2536.5" y="1122.5">ilUtil\maskTag</text></g>
<g id="n_unmaskAttr"><rect x="2452" y="1156" width="170" height="26"/><text x="2537" y="1173.5">ilUtil\unmaskAttributeTag</text></g>
<g id="n_unmaskTag"><rect x="2477" y="1206" width="120" height="26"/><text x="2537" y="1223.5">ilUtil\unmaskTag</text></g>
<g id="n_secureLink"><rect x="2669" y="1156" width="115" height="26"/><text x="2726.5" y="1173.5">ilUtil\secureLink</text></g>
</svg>
